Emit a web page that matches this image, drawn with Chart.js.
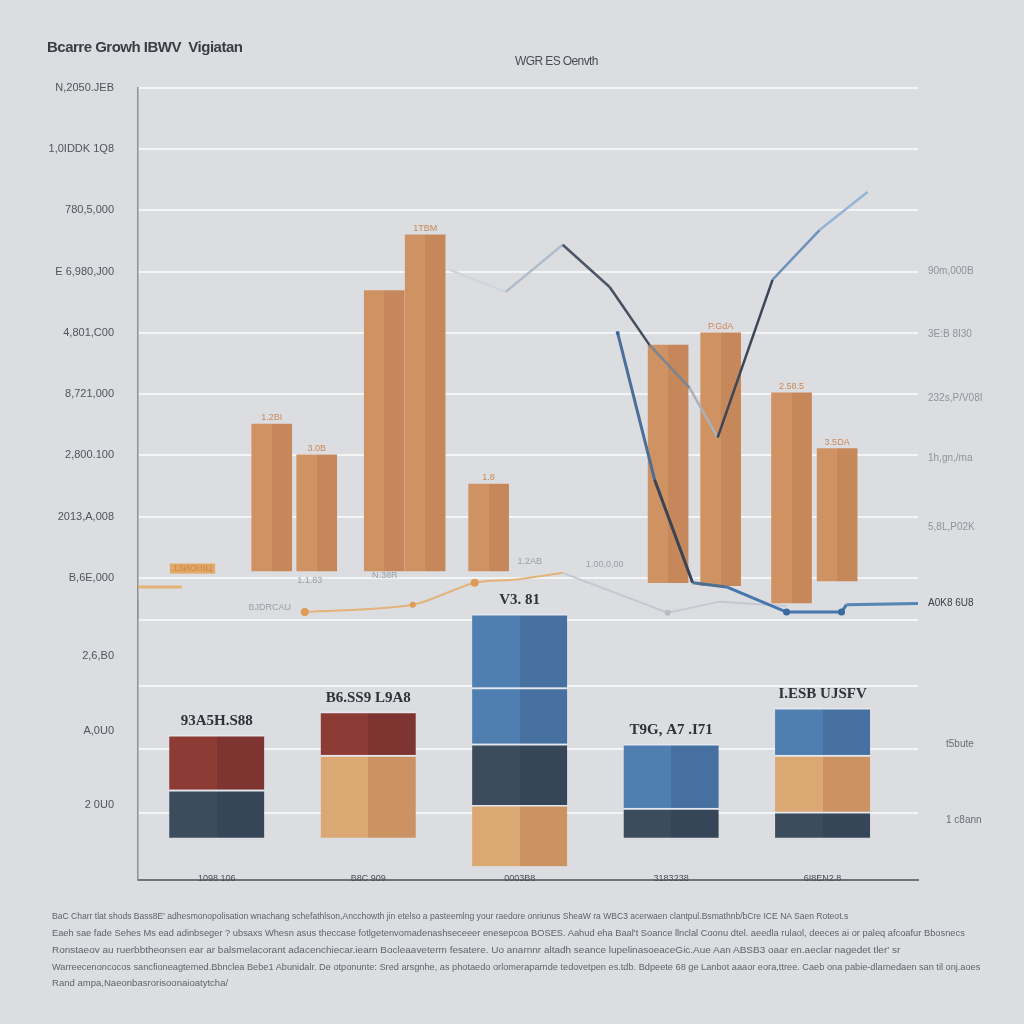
<!DOCTYPE html>
<html><head><meta charset="utf-8">
<script src="https://cdn.jsdelivr.net/npm/chart.js@4.4.0/dist/chart.umd.min.js"></script>
<style>
html,body{margin:0;padding:0;background:#dcdde0;}
#wrap{position:relative;width:1024px;height:1024px;overflow:hidden;background:#dcdde0;font-family:"Liberation Sans",Arial,sans-serif;}
canvas{position:absolute;left:0;top:0;}
#title{position:absolute;left:47px;top:38px;font-size:15px;font-weight:bold;color:#3a3d44;letter-spacing:-0.5px;white-space:nowrap;}
#subtitle{position:absolute;left:515px;top:54px;font-size:12px;color:#4a4d54;letter-spacing:-0.6px;white-space:nowrap;}
.note{position:absolute;left:52px;font-size:9px;color:#5f636b;white-space:nowrap;transform-origin:0 0;}
</style></head>
<body>
<div id="wrap">
  <canvas id="topc" width="1024" height="1024"></canvas>
  <canvas id="botc" width="1024" height="1024"></canvas>
  <div id="title">Bcarre Growh IBWV &nbsp;Vigiatan</div>
  <div id="subtitle">WGR ES Oenvth</div>
  <div class="note" style="top:911px" data-w="796">BaC Charr tlat shods Bass8E' adhesmonopolisation wnachang schefathlson,Ancchowth jin etelso a pasteemlng your raedore onriunus SheaW ra WBC3 acerwaen clantpul.Bsmathnb/bCre ICE NA Saen Roteot.s</div>
  <div class="note" style="top:928px" data-w="913">Eaeh sae fade Sehes Ms ead adinbseger ? ubsaxs Whesn asus theccase fotlgetenvomadenashseceeer enesepcoa BOSES. Aahud eha Baal't Soance llnclal Coonu dtel. aeedla rulaol, deeces ai or paleq afcoafur Bbosnecs</div>
  <div class="note" style="top:945px" data-w="848">Ronstaeov au ruerbbtheonsen ear ar balsmelacorant adacenchiecar.iearn Bocleaaveterm fesatere. Uo anarnnr altadh seance lupelinasoeaceGic.Aue Aan ABSB3 oaar en.aeclar nagedet tler' sr</div>
  <div class="note" style="top:962px" data-w="928">Warreecenoncocos sancfioneagtemed.Bbnclea Bebe1 Abunidalr. De otponunte: Sred arsgnhe, as photaedo orlomeraparnde tedovetpen es.tdb. Bdpeete 68 ge Lanbot aaaor eora,ttree. Caeb ona pabie-dlarnedaen san til onj.aoes</div>
  <div class="note" style="top:978px" data-w="176">Rand ampa,Naeonbasrorisoonaioatytcha/</div>
</div>
<script>
// ================= DATA =================
// shared x positions (category slots 1..5)
const xCategories = [1, 2, 3, 4, 5];
const xLabels = ['1098 106', 'B8C 909', '0003B8', '3183238', '6I8EN2.8'];

// upper panel axes
const topLeftTicks = [0, 100, 200, 300, 400, 500, 600, 700, 800];
const topLeftTickLabels = ['B,6E,000', '2013,A,008', '2,800.100', '8,721,000', '4,801,C00', 'E 6,980,J00', '780,5,000', '1,0IDDK 1Q8', 'N,2050.JEB'];
const topRightTicks = [501, 397, 294, 196, 83, -42];
const topRightTickLabels = ['90m,000B', '3E:B 8I30', '232s,P/V08I', '1h,gn,/ma', '5,8L,P02K', 'A0K8 6U8'];

// upper panel orange bars (floating: base..top)
const barX = [1.363, 1.66, 2.106, 2.376, 2.795, 3.98, 4.327, 4.795, 5.096];
const barBase = [11, 11, 11, 11, 11, -8, -13, -41, -5];
const barTop = [251, 201, 469, 560, 153, 380, 400, 302, 211];
const barLabels = ['1.2BI', '3.0B', '', '1TBM', '1.8', '', 'P.GdA', '2.58.5', '3.5DA'];

// upper panel lines
const lineAX = [2.538, 2.908, 3.284, 3.594, 3.858, 4.122, 4.307, 4.670, 4.980, 5.297];
const lineAY = [503, 467, 544, 475, 380, 310, 229, 487, 568, 630];
const lineBX = [3.647, 3.891, 4.142, 4.366, 4.762, 5.125, 5.158, 5.63];
const lineBY = [400, 160, -8, -15, -56, -56, -44, -42];
const lineCX = [1.581, 2.294, 2.703, 2.980, 3.284];
const lineCY = [-56, -44, -8, -3, 8];
const lineDX = [3.284, 3.977, 4.320, 4.762];
const lineDY = [8, -57, -39, -46];
const lineEX = [0.48, 0.77];
const lineEY = [-15, -15];

// upper panel small annotations
const noteX = [0.84, 1.614, 2.109, 1.35, 3.066, 3.561];
const noteY = [15, -4, 3, -48, 26, 21];
const noteText = ['13ИOHIЦ', '1.1.83', 'N.38R', 'BJDRCAU', '1.2AB', '1.00,0,00'];

// lower panel axes
const botGridTicks = [100, 200, 300, 405];
const botLeftTicks = [112, 229, 348];
const botLeftTickLabels = ['2 0U0', 'A,0U0', '2,6,B0'];
const botRightTicks = [87, 209];
const botRightTickLabels = ['1 c8ann', 't5bute'];

// lower panel stacked segments (floating low..high per category, null = none)
const navyLow  = [60, null, 112, 60, 60];
const navyHigh = [136, null, 209, 107, 101];
const tanLow   = [null, 60, 15, null, 101];
const tanHigh  = [null, 191, 112, null, 191];
const redLow   = [136, 191, null, null, null];
const redHigh  = [223, 260, null, null, null];
const blueLow  = [null, null, 209, 107, 191];
const blueHigh = [null, null, 298, 209, 266];
const blue2Low  = [null, null, 298, null, null];
const blue2High = [null, null, 415, null, null];
const stackLabels = ['93A5H.S88', 'B6.SS9 L9A8', 'V3. 81', 'T9G, A7 .I71', 'I.ESB UJSFV'];

// ================= STYLE / HELPERS =================
const pts = (xs, ys) => xs.map((x, i) => ({x, y: ys[i]}));
const floats = (xs, lo, hi) => xs.map((x, i) => lo[i] == null ? null : {x, y: [lo[i], hi[i]]}).filter(Boolean);

function twoTone(light, dark, width) {
  return (c) => {
    const chart = c.chart, xs = chart.scales && chart.scales.x;
    if (!xs || !c.raw || c.type !== 'data') return light;
    const px = xs.getPixelForValue(c.raw.x);
    if (!isFinite(px)) return light;
    const g = chart.ctx.createLinearGradient(px - width / 2, 0, px + width / 2, 0);
    g.addColorStop(0, light); g.addColorStop(0.5, light);
    g.addColorStop(0.5, dark); g.addColorStop(1, dark);
    return g;
  };
}

const lineAColors = ['#d2d6dc', '#aebccb', '#4c5667', '#434f5f', '#7a8593', '#a9b1bb', '#3c4658', '#6d93bc', '#93b5d8'];
const lineBColors = ['#4a6f98', '#384355', '#4c6f94', '#4676ab', '#4676ab', '#4676ab', '#5585b6'];

const textPlugin = {
  id: 'texts',
  afterDatasetsDraw(chart, args, opts) {
    const ctx = chart.ctx;
    const xs = chart.scales.x, ys = chart.scales.y;
    ctx.save();
    if (opts.mode === 'top') {
      const meta = chart.getDatasetMeta(opts.barIndex);
      ctx.font = '9px "Liberation Sans Narrow","Liberation Sans",sans-serif';
      ctx.textAlign = 'center'; ctx.textBaseline = 'bottom';
      meta.data.forEach((el, i) => {
        if (!barLabels[i]) return;
        ctx.fillStyle = '#c9895a';
        ctx.fillText(barLabels[i], el.x, el.y - 2);
      });
      noteText.forEach((t, i) => {
        const px = xs.getPixelForValue(noteX[i]), py = ys.getPixelForValue(noteY[i]);
        if (i === 0) {
          ctx.fillStyle = '#e2a866';
          const w = ctx.measureText(t).width + 6;
          ctx.fillRect(px - w / 2, py - 5, w, 10);
          ctx.fillStyle = '#c98a4e';
        } else {
          ctx.fillStyle = '#9a9ea6';
        }
        ctx.textBaseline = 'middle';
        ctx.fillText(t, px, py);
      });
    } else {
      const tops = xCategories.map((_, i) => Math.max(...[navyHigh, tanHigh, redHigh, blueHigh, blue2High].map(a => a[i] == null ? -1e9 : a[i])));
      ctx.font = 'bold 15px "Liberation Serif",serif';
      ctx.fillStyle = '#2f3238';
      ctx.textAlign = 'center'; ctx.textBaseline = 'bottom';
      xCategories.forEach((x, i) => {
        ctx.fillText(stackLabels[i], xs.getPixelForValue(x), ys.getPixelForValue(tops[i]) - 6);
      });
      // category labels sitting on the baseline
      ctx.font = '9px "Liberation Sans Narrow","Liberation Sans",sans-serif';
      ctx.fillStyle = '#4b4f57';
      ctx.textBaseline = 'alphabetic';
      xCategories.forEach((x, i) => {
        ctx.fillText(xLabels[i], xs.getPixelForValue(x), chart.chartArea.bottom + 1);
      });
    }
    ctx.restore();
  }
};

const tickFont = {family: '"Liberation Sans Narrow","Liberation Sans",sans-serif', size: 11};
const setTicks = (vals) => (s) => { s.ticks = vals.map(v => ({value: v})); };
const labelFor = (vals, labels) => (v) => { const i = vals.indexOf(v); return i >= 0 ? labels[i] : ''; };

// ================= UPPER PANEL =================
new Chart(document.getElementById('topc'), {
  data: {
    datasets: [
      {type: 'line', data: pts(lineAX, lineAY), borderWidth: 2.5, pointRadius: 0, tension: 0, order: 0,
        borderColor: '#4c5667', segment: {borderColor: c => lineAColors[c.p0DataIndex]}},
      {type: 'line', data: pts(lineBX, lineBY), borderWidth: 3, tension: 0, order: 0,
        borderColor: '#4676ab', segment: {borderColor: c => lineBColors[c.p0DataIndex]},
        pointRadius: [2, 0, 0, 0, 3.5, 3.5, 0, 0], pointBackgroundColor: '#3b6aa0', pointBorderWidth: 0},
      {type: 'line', data: pts(lineCX, lineCY), borderWidth: 2, tension: 0.3, order: 0, borderColor: '#e2b47c',
        pointRadius: [4, 3, 4, 0, 0], pointBackgroundColor: '#e09a55', pointBorderWidth: 0},
      {type: 'line', data: pts(lineDX, lineDY), borderWidth: 2, tension: 0, order: 0, borderColor: '#c3c9d1',
        pointRadius: [0, 3, 0, 0], pointBackgroundColor: '#b5bcc6', pointBorderWidth: 0},
      {type: 'line', data: pts(lineEX, lineEY), borderWidth: 3, tension: 0, order: 0, borderColor: '#e3b27a', pointRadius: 0},
      {type: 'bar', data: floats(barX, barBase, barTop), barThickness: 40, order: 1, borderWidth: 0,
        backgroundColor: twoTone('#cf9363', '#c6885a', 40)}
    ]
  },
  options: {
    responsive: false, animation: false, maintainAspectRatio: false,
    layout: {padding: {top: 88, bottom: 404, left: 0, right: 0}},
    plugins: {legend: {display: false}, tooltip: {enabled: false}, title: {display: false}, texts: {mode: 'top', barIndex: 5}},
    scales: {
      x: {type: 'linear', min: 0.48, max: 5.63, offset: false, display: false},
      y: {type: 'linear', position: 'left', min: -69, max: 800,
        afterFit: s => { s.width = 138; }, afterBuildTicks: setTicks(topLeftTicks),
        ticks: {callback: labelFor(topLeftTicks, topLeftTickLabels), padding: 24, color: '#50545c', font: tickFont},
        grid: {color: '#f3f4f6', lineWidth: 2, drawTicks: false},
        border: {display: true, color: '#8d9096', width: 1.5}},
      yr: {type: 'linear', position: 'right', min: -69, max: 800,
        afterFit: s => { s.width = 106; }, afterBuildTicks: setTicks(topRightTicks),
        ticks: {callback: labelFor(topRightTicks, topRightTickLabels), padding: 2, font: {family: tickFont.family, size: 10},
          color: c => c.tick && c.tick.value === -42 ? '#3d4047' : '#8f939a'},
        grid: {display: false}, border: {display: false}}
    }
  },
  plugins: [textPlugin]
});

// ================= LOWER PANEL =================
const segCommon = {grouped: false, barThickness: 95, borderWidth: {top: 2, left: 0, right: 0, bottom: 0},
  borderColor: '#e4e8ee', borderSkipped: false};
new Chart(document.getElementById('botc'), {
  type: 'bar',
  data: {
    datasets: [
      Object.assign({data: floats(xCategories, navyLow, navyHigh), backgroundColor: twoTone('#3d4c5d', '#364557', 95)}, segCommon),
      Object.assign({data: floats(xCategories, tanLow, tanHigh), backgroundColor: twoTone('#dba772', '#cc9262', 95)}, segCommon),
      Object.assign({data: floats(xCategories, redLow, redHigh), backgroundColor: twoTone('#8d3b35', '#7e3531', 95)}, segCommon),
      Object.assign({data: floats(xCategories, blueLow, blueHigh), backgroundColor: twoTone('#4f7eb0', '#4670a0', 95)}, segCommon),
      Object.assign({data: floats(xCategories, blue2Low, blue2High), backgroundColor: twoTone('#4f7eb0', '#4670a0', 95)}, segCommon)
    ]
  },
  options: {
    responsive: false, animation: false, maintainAspectRatio: false,
    layout: {padding: {top: 600, bottom: 124, left: 0, right: 0}},
    plugins: {legend: {display: false}, tooltip: {enabled: false}, texts: {mode: 'bottom'}},
    scales: {
      x: {type: 'linear', min: 0.48, max: 5.63, offset: false, afterFit: s => { s.height = 20; },
        afterBuildTicks: setTicks(xCategories),
        ticks: {display: false},
        grid: {display: false, drawTicks: false, offset: false}, border: {display: true, color: '#6f737a', width: 2}},
      y: {type: 'linear', position: 'left', min: -7, max: 437,
        afterFit: s => { s.width = 138; },
        afterBuildTicks: setTicks(botGridTicks.concat(botLeftTicks)),
        ticks: {callback: labelFor(botLeftTicks, botLeftTickLabels), padding: 24, color: '#50545c', font: tickFont},
        grid: {color: c => c.tick && botGridTicks.includes(c.tick.value) ? '#f3f4f6' : 'rgba(0,0,0,0)', lineWidth: 2, drawTicks: false},
        border: {display: true, color: '#8d9096', width: 1.5}},
      yr: {type: 'linear', position: 'right', min: -7, max: 437,
        afterFit: s => { s.width = 106; }, afterBuildTicks: setTicks(botRightTicks),
        ticks: {callback: labelFor(botRightTicks, botRightTickLabels), padding: 20, color: '#6a6e75', font: {family: tickFont.family, size: 10}},
        grid: {display: false}, border: {display: false}}
    }
  },
  plugins: [textPlugin]
});

// fit footnote lines to their widths
document.querySelectorAll('.note').forEach(el => {
  const w = +el.dataset.w; const sw = el.scrollWidth;
  if (sw > 0) el.style.transform = 'scaleX(' + (w / sw) + ')';
});
</script>
</body></html>
